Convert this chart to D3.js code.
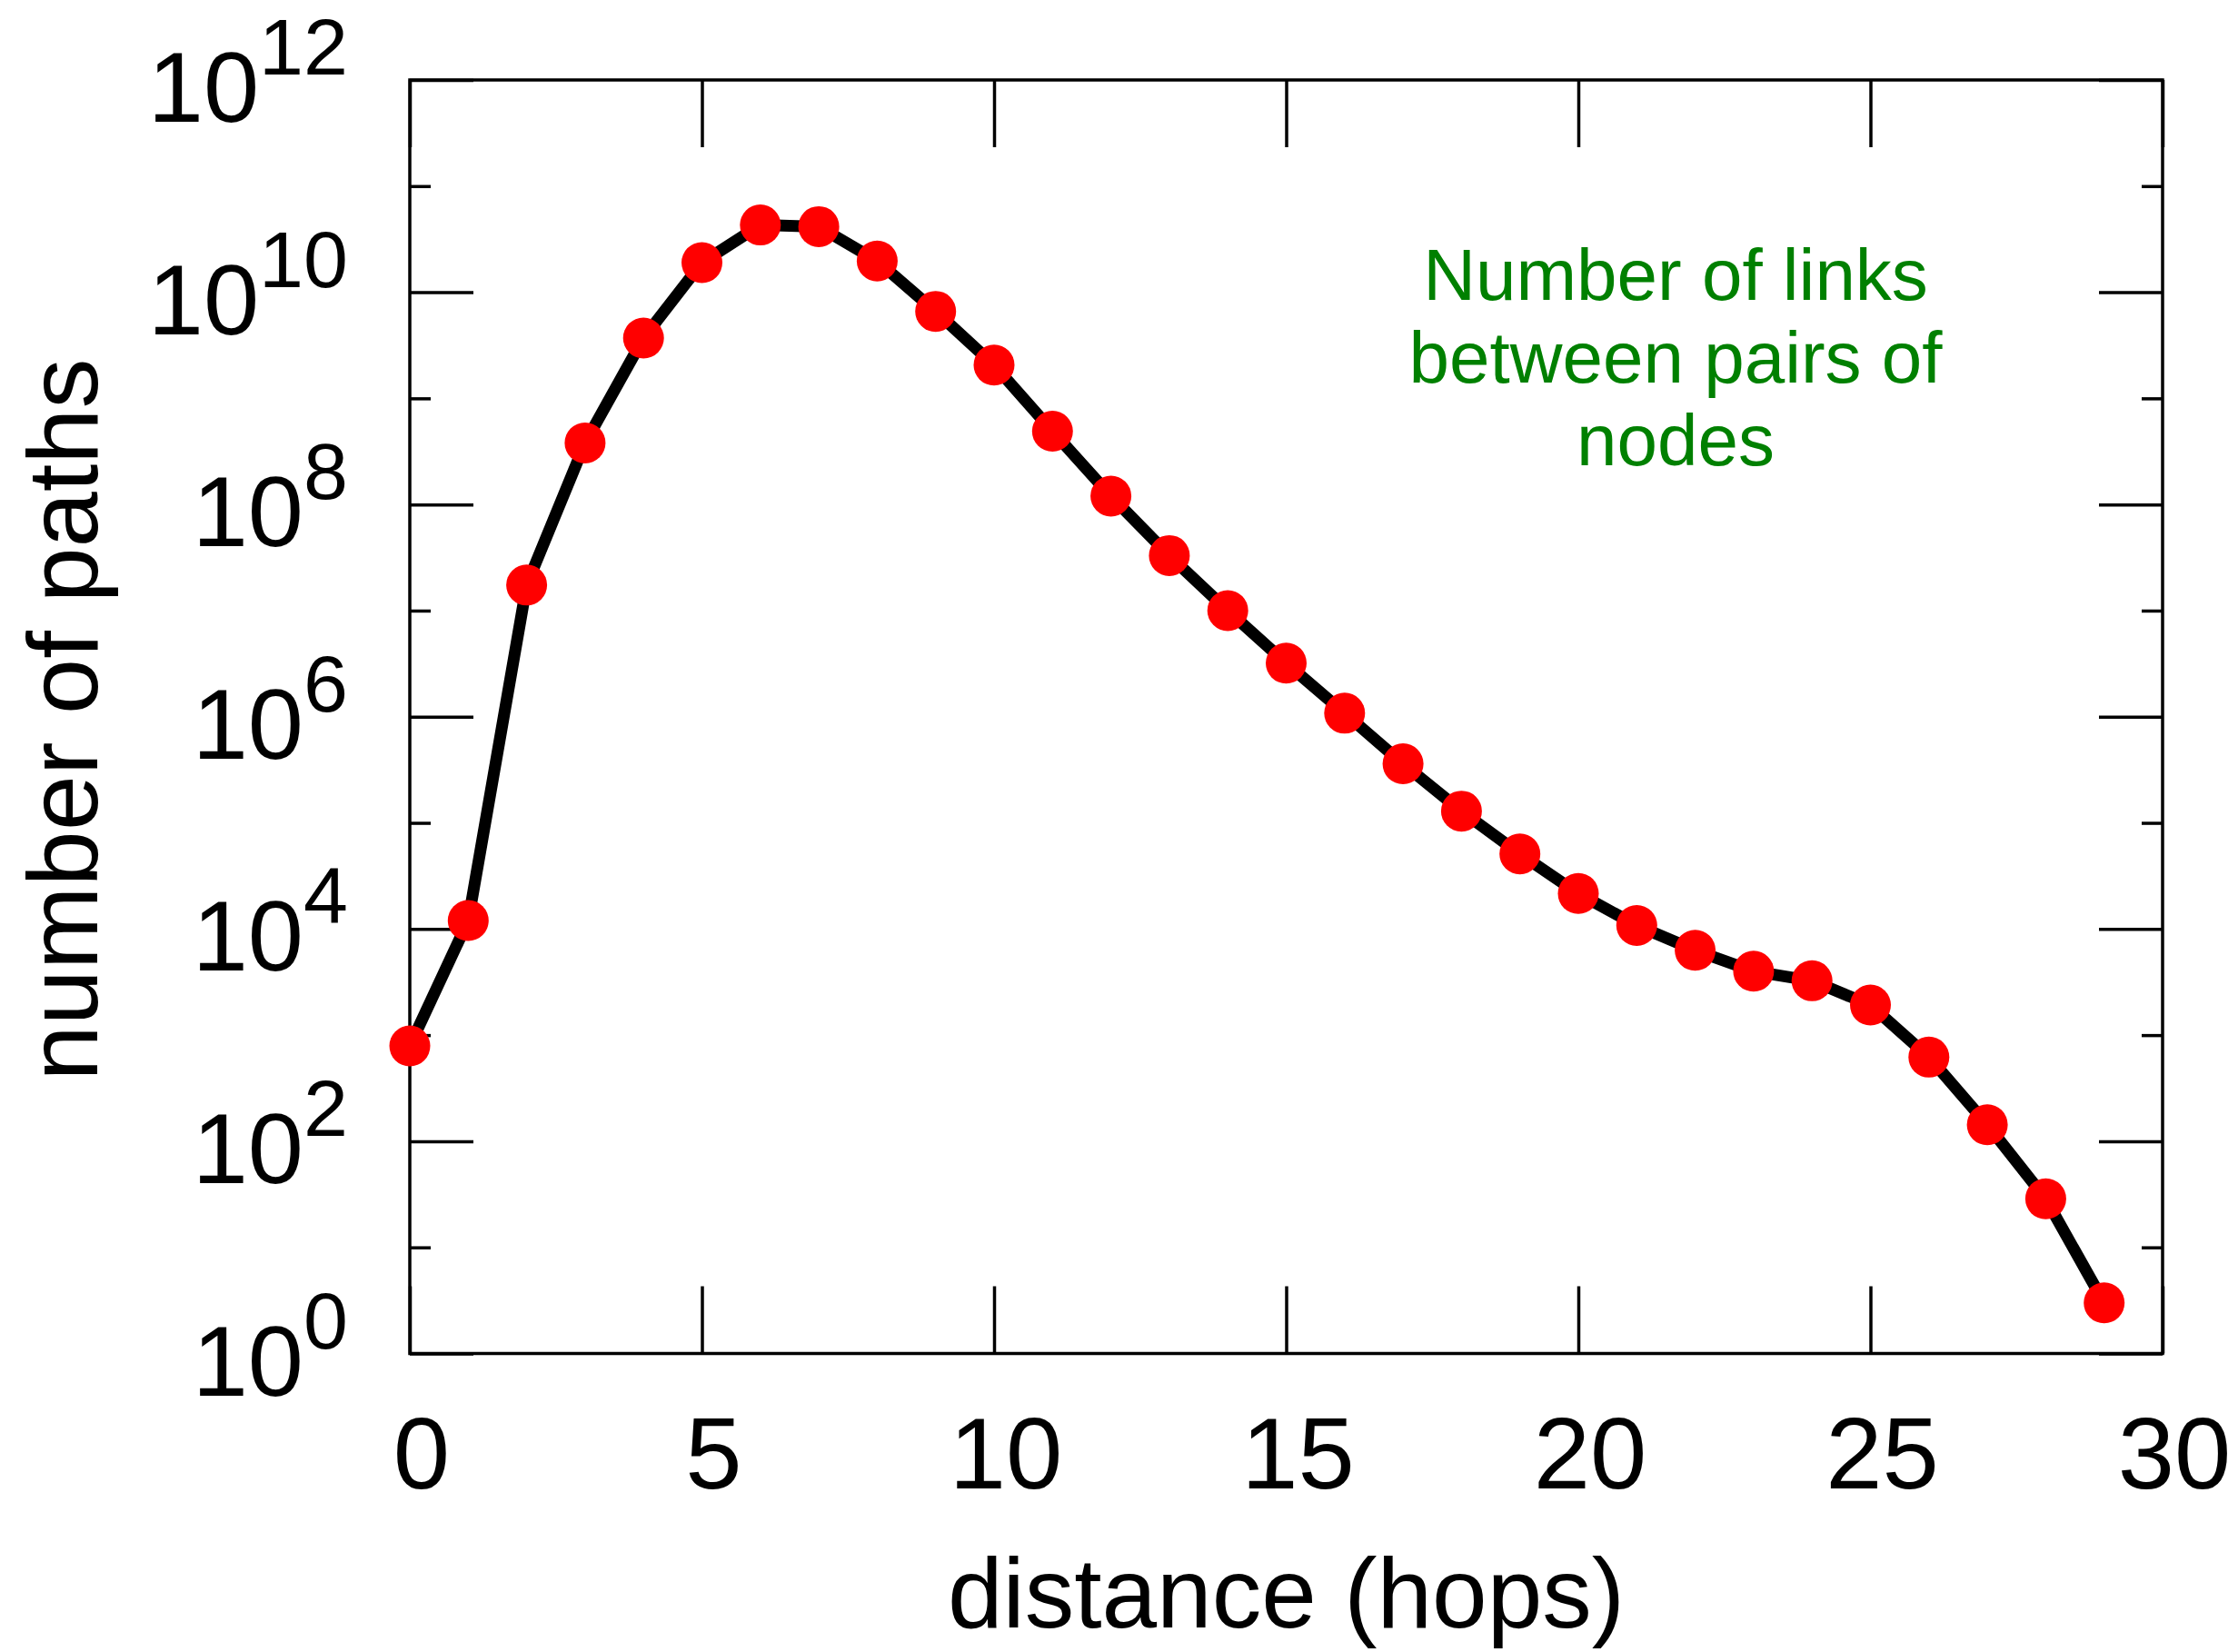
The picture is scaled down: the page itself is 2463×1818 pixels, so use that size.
<!DOCTYPE html>
<html>
<head>
<meta charset="utf-8">
<script src="https://cdn.jsdelivr.net/npm/d3@7"></script>
<style>
  html, body { margin: 0; padding: 0; background: #ffffff; }
  svg { display: block; }
  text { font-family: "Liberation Sans", Arial, Helvetica, sans-serif; }
</style>
</head>
<body>
<svg id="chart" width="2463" height="1818"></svg>
<script>
// ---- data ----
const distance = [0,1,2,3,4,5,6,7,8,9,10,11,12,13,14,15,16,17,18,19,20,21,22,23,24,25,26,27,28,29];
const numPaths = [790, 1.2e4, 1.74e7, 3.8e8, 3.7e9, 1.9e10, 4.3e10, 4.15e10, 1.97e10, 6.6e9,
                  2.06e9, 4.9e8, 1.2e8, 3.3e7, 1.0e7, 3.2e6, 1.08e6, 3.6e5, 1.29e5, 5.1e4,
                  2.16e4, 1.08e4, 6.3e3, 4.0e3, 3.25e3, 1.92e3, 620, 143, 28.7, 3.0];
const xTicks = [0, 5, 10, 15, 20, 25, 30];
const yMajorExponents = [0, 2, 4, 6, 8, 10, 12];
const yMinorExponents = [1, 3, 5, 7, 9, 11];
const xTitle = "distance (hops)";
const yTitle = "number of paths";
const noteLines = ["Number of links", "between pairs of", "nodes"];

// ---- layout ----
const L = 451, R = 2380, T = 88, B = 1489.5;
const svg = d3.select("#chart");
svg.append("rect").attr("width", 2463).attr("height", 1818).attr("fill", "#ffffff");

const x = d3.scaleLinear().domain([0, 30]).range([L, R]);
const y = d3.scaleLog().domain([1, 1e12]).range([B, T]);

const axisStroke = 3.5;
function styleAxis(g) {
  g.select(".domain").remove();
  g.selectAll(".tick line").attr("stroke", "#000").attr("stroke-width", axisStroke);
  g.selectAll(".tick text").remove();
}

// ticks (inward)
const majorVals = yMajorExponents.map(e => Math.pow(10, e));
const minorVals = yMinorExponents.map(e => Math.pow(10, e));
svg.append("g").attr("transform", `translate(${L},0)`)
  .call(d3.axisLeft(y).tickValues(majorVals).tickSize(-70).tickFormat("")).call(styleAxis);
svg.append("g").attr("transform", `translate(${L},0)`)
  .call(d3.axisLeft(y).tickValues(minorVals).tickSize(-23).tickFormat("")).call(styleAxis);
svg.append("g").attr("transform", `translate(${R},0)`)
  .call(d3.axisRight(y).tickValues(majorVals).tickSize(-70).tickFormat("")).call(styleAxis);
svg.append("g").attr("transform", `translate(${R},0)`)
  .call(d3.axisRight(y).tickValues(minorVals).tickSize(-23).tickFormat("")).call(styleAxis);
svg.append("g").attr("transform", `translate(0,${B})`)
  .call(d3.axisBottom(x).tickValues(xTicks).tickSize(-74).tickFormat("")).call(styleAxis);
svg.append("g").attr("transform", `translate(0,${T})`)
  .call(d3.axisTop(x).tickValues(xTicks).tickSize(-74).tickFormat("")).call(styleAxis);

// frame
svg.append("rect")
  .attr("x", L).attr("y", T).attr("width", R - L).attr("height", B - T)
  .attr("fill", "none").attr("stroke", "#000").attr("stroke-width", axisStroke);

// y tick labels 10^n
const yLab = svg.append("g");
yMajorExponents.forEach(e => {
  const ty = y(Math.pow(10, e));
  const t = yLab.append("text")
    .attr("x", 383).attr("y", ty + 46)
    .attr("text-anchor", "end").attr("fill", "#000");
  t.append("tspan").attr("font-size", 110).text("10");
  t.append("tspan").attr("font-size", 88).attr("dy", -52).text(String(e));
});

// x tick labels
svg.append("g").selectAll("text").data(xTicks).join("text")
  .attr("x", d => x(d) + 13).attr("y", 1638)
  .attr("text-anchor", "middle").attr("font-size", 112).attr("fill", "#000")
  .text(d => String(d));

// axis titles
svg.append("text")
  .attr("x", (L + R) / 2).attr("y", 1791)
  .attr("text-anchor", "middle").attr("font-size", 109).attr("fill", "#000")
  .text(xTitle);
svg.append("text")
  .attr("transform", `translate(107,792) rotate(-90)`)
  .attr("text-anchor", "middle").attr("font-size", 110).attr("fill", "#000")
  .text(yTitle);

// data line and points
const pts = distance.map((d, i) => [d, numPaths[i]]);
svg.append("path")
  .datum(pts)
  .attr("fill", "none").attr("stroke", "#000").attr("stroke-width", 13)
  .attr("stroke-linejoin", "round")
  .attr("d", d3.line().x(d => x(d[0])).y(d => y(d[1])));
svg.append("g").selectAll("circle").data(pts).join("circle")
  .attr("cx", d => x(d[0])).attr("cy", d => y(d[1])).attr("r", 22.5)
  .attr("fill", "#ff0000");

// annotation
const note = svg.append("text").attr("text-anchor", "middle")
  .attr("font-size", 80).attr("fill", "#008000");
noteLines.forEach((s, i) => {
  note.append("tspan").attr("x", 1844).attr("y", 330 + i * 91).text(s);
});
</script>
</body>
</html>
